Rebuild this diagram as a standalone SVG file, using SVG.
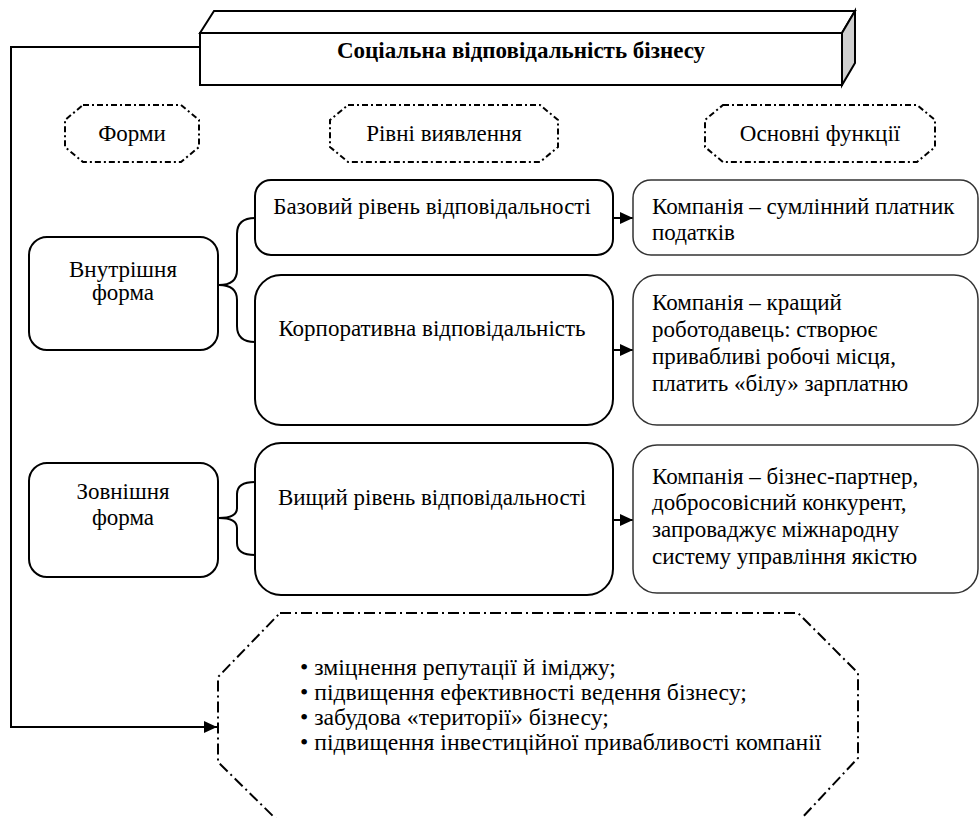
<svg xmlns="http://www.w3.org/2000/svg" width="979" height="818" viewBox="0 0 979 818" font-family="'Liberation Serif', 'DejaVu Serif', serif">
<style>
text{font-family:"Liberation Serif","DejaVu Serif",serif;font-size:23px;fill:#000}
.c{text-anchor:middle}
.b{font-weight:bold;font-size:23px}
.r{font-size:23.7px}
.box{fill:#fff;stroke:#000;stroke-width:2}
.fbox{fill:#fff;stroke:#333;stroke-width:1.5}
.dd{fill:none;stroke:#000;stroke-width:2;stroke-dasharray:6 3 2 3}
.big{fill:none;stroke:#000;stroke-width:2;stroke-dasharray:11 4 2 4}
.ln{fill:none;stroke:#000;stroke-width:2}
</style>
<defs>
<marker id="ah" markerWidth="13" markerHeight="12" refX="13" refY="6" orient="auto" markerUnits="userSpaceOnUse">
<path d="M0,0 L13,6 L0,12 Z" fill="#000"/>
</marker>
</defs>
<g id="connectors">
<polyline class="ln" points="200,47 11,47 11,727 217,727" marker-end="url(#ah)"/>
<line class="ln" x1="613" y1="218" x2="633" y2="218" marker-end="url(#ah)"/>
<line class="ln" x1="613" y1="350" x2="633" y2="350" marker-end="url(#ah)"/>
<line class="ln" x1="613" y1="520" x2="633" y2="520" marker-end="url(#ah)"/>
<path class="ln" d="M255,218 Q237,218 237,234 L237,270 Q237,285 219,285 Q237,285 237,300 L237,326 Q237,342 255,342"/>
<path class="ln" d="M255,482 Q237,482 237,494 L237,508 Q237,518 219,518 Q237,518 237,528 L237,543 Q237,555 255,555"/>
</g>
<g id="title">
<polygon points="200,33 214,11 855,11 842,33" fill="#fff" stroke="#000" stroke-width="2"/>
<polygon points="842,33 855,11 855,63 842,85" fill="#d0d0d0" stroke="#000" stroke-width="2"/>
<rect x="200" y="33" width="642" height="52" fill="#fff" stroke="#000" stroke-width="2"/>
<text class="c b" x="521" y="58">Соціальна відповідальність бізнесу</text>
</g>
<g id="forms-label">
<polygon class="dd" points="83,105 181,105 199,120 199,147 181,162 83,162 65,147 65,120"/>
<text class="c" x="132" y="141">Форми</text>
</g>
<g id="levels-label">
<polygon class="dd" points="348,105 540,105 558,120 558,147 540,162 348,162 330,147 330,120"/>
<text class="c" x="444" y="141">Рівні виявлення</text>
</g>
<g id="functions-label">
<polygon class="dd" points="723,105 917,105 935,120 935,147 917,162 723,162 705,147 705,120"/>
<text class="c" x="820" y="141">Основні функції</text>
</g>
<g id="internal">
<rect class="box" x="29" y="237" width="189" height="113" rx="18"/>
<text class="c" x="123" y="277">Внутрішня</text>
<text class="c" x="123" y="300">форма</text>
</g>
<g id="external">
<rect class="box" x="29" y="463" width="189" height="114" rx="18"/>
<text class="c" x="123" y="499">Зовнішня</text>
<text class="c" x="123" y="525">форма</text>
</g>
<g id="basic">
<rect class="box" x="255" y="180" width="358" height="75" rx="16"/>
<text class="c" x="432" y="214">Базовий рівень відповідальності</text>
</g>
<g id="corporate">
<rect class="box" x="255" y="275" width="358" height="150" rx="26"/>
<text class="c" x="432" y="336">Корпоративна відповідальність</text>
</g>
<g id="higher">
<rect class="box" x="255" y="443" width="358" height="152" rx="26"/>
<text class="c" x="432" y="505">Вищий рівень відповідальності</text>
</g>
<g id="func1">
<rect class="fbox" x="633" y="180" width="345" height="75" rx="18"/>
<text x="652" y="214">Компанія – сумлінний платник</text>
<text x="652" y="240">податків</text>
</g>
<g id="func2">
<rect class="fbox" x="633" y="275" width="345" height="150" rx="24"/>
<text x="652" y="310">Компанія – кращий</text>
<text x="652" y="337">роботодавець: створює</text>
<text x="652" y="364">привабливі робочі місця,</text>
<text x="652" y="391">платить «білу» зарплатню</text>
</g>
<g id="func3">
<rect class="fbox" x="633" y="445" width="345" height="148" rx="24"/>
<text x="652" y="484">Компанія – бізнес-партнер,</text>
<text x="652" y="510">добросовісний конкурент,</text>
<text x="652" y="537">запроваджує міжнародну</text>
<text x="652" y="564">систему управління якістю</text>
</g>
<g id="results">
<polygon class="big" points="280,613 798,613 858,673 858,758 800,820 277,820 218,762 218,677"/>
<text class="r" x="300" y="675">• зміцнення репутації й іміджу;</text>
<text class="r" x="300" y="700">• підвищення ефективності ведення бізнесу;</text>
<text class="r" x="300" y="725">• забудова «території» бізнесу;</text>
<text class="r" x="300" y="750">• підвищення інвестиційної привабливості компанії</text>
</g>
</svg>
